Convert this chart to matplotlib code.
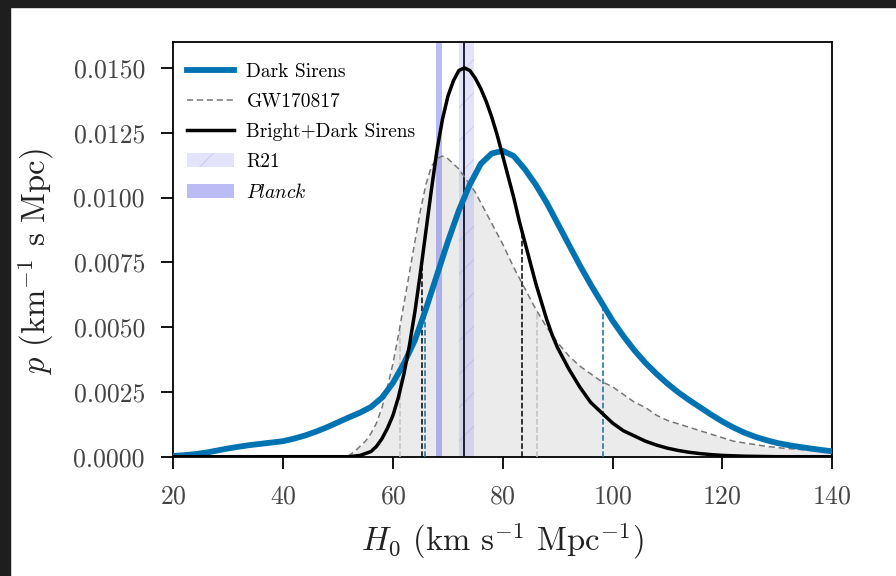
"""Posterior on H0: dark sirens, GW170817 and the combined bright+dark result."""

import matplotlib

matplotlib.use("Agg")
import matplotlib.pyplot as plt  # noqa: E402
from matplotlib.patches import Rectangle  # noqa: E402
from matplotlib.ticker import FormatStrFormatter  # noqa: E402

plt.rcParams.update({
    "font.family": "serif",
    "font.serif": ["cmr10"],
    "mathtext.fontset": "cm",
    "axes.formatter.use_mathtext": True,
    "hatch.linewidth": 0.8,
})

# Dark sirens posterior
DARK_H0 = [20, 22, 24, 26, 28, 30, 32, 34, 36, 38, 40, 42, 44, 46, 48, 50, 52,
           54, 56, 58, 60, 62, 64, 66, 68, 70, 72, 74, 76, 78, 80, 82, 84, 86,
           88, 90, 92, 94, 96, 98, 100, 102, 104, 106, 108, 110, 112, 114,
           116, 118, 120, 122, 124, 126, 128, 130, 132, 134, 136, 138, 140]
DARK_P = [0.00003, 0.00006, 0.00010, 0.00016, 0.00024, 0.00032, 0.00039,
          0.00045, 0.00050, 0.00055, 0.00060, 0.00070, 0.00082, 0.00097,
          0.00114, 0.00133, 0.00152, 0.00170, 0.00192, 0.00228, 0.00285,
          0.00360, 0.00450, 0.00570, 0.00700, 0.00830, 0.00950, 0.01050,
          0.01130, 0.01170, 0.01180, 0.01160, 0.01110, 0.01050, 0.00980,
          0.00900, 0.00820, 0.00740, 0.00665, 0.00595, 0.00525, 0.00465,
          0.00410, 0.00362, 0.00320, 0.00282, 0.00248, 0.00218, 0.00190,
          0.00162, 0.00136, 0.00113, 0.00093, 0.00077, 0.00064, 0.00053,
          0.00045, 0.00038, 0.00032, 0.00026, 0.00021]

# GW170817 (bright siren) posterior
GW_H0 = [50, 52, 53, 54, 55, 56, 57, 58, 59, 60, 61, 62, 63, 64, 65, 66, 67,
         68, 69, 70, 71, 72, 73, 74, 75, 76, 77, 78, 79, 80, 82, 84, 86, 88,
         90, 92, 94, 96, 98, 100, 102, 104, 106, 108, 110, 113, 116, 119,
         122, 125, 128, 131, 134, 137, 140]
GW_P = [0.0, 0.00005, 0.0002, 0.0004, 0.0006, 0.0009, 0.0013, 0.0019, 0.0027,
        0.0036, 0.0047, 0.0059, 0.0071, 0.0083, 0.0095, 0.0105, 0.0112,
        0.0115, 0.0116, 0.0115, 0.0113, 0.0111, 0.0108, 0.0105, 0.0102,
        0.0098, 0.0094, 0.0090, 0.0086, 0.0082, 0.0073, 0.0065, 0.0057,
        0.0050, 0.0044, 0.0039, 0.0035, 0.0032, 0.0029, 0.0027, 0.0024,
        0.0021, 0.0019, 0.0016, 0.0014, 0.0012, 0.0010, 0.0008, 0.0006,
        0.0005, 0.0004, 0.00033, 0.00028, 0.00022, 0.00018]

# Combined bright + dark sirens posterior
BOTH_H0 = [20, 52, 54, 56, 57, 58, 59, 60, 61, 62, 63, 64, 65, 66, 67, 68, 69,
           70, 71, 72, 73, 74, 75, 76, 77, 78, 79, 80, 81, 82, 83, 84, 85, 86,
           87, 88, 89, 90, 92, 94, 96, 98, 100, 102, 104, 106, 108, 110, 112,
           114, 116, 118, 120, 124, 130, 140]
BOTH_P = [0.0, 0.0, 0.00005, 0.0002, 0.0004, 0.0007, 0.0011, 0.0016, 0.0023,
          0.0032, 0.0043, 0.0056, 0.0071, 0.0087, 0.0103, 0.0118, 0.0130,
          0.0139, 0.0145, 0.0149, 0.0150, 0.0149, 0.0146, 0.0142, 0.0137,
          0.0131, 0.0124, 0.0116, 0.0108, 0.0100, 0.0091, 0.0083, 0.0075,
          0.0067, 0.0060, 0.0053, 0.0047, 0.0042, 0.0034, 0.0027, 0.0021,
          0.0017, 0.0013, 0.0010, 0.0008, 0.0006, 0.00045, 0.00033, 0.00024,
          0.00017, 0.00012, 0.00008, 0.00005, 0.00002, 0.0, 0.0]

# 68% interval bounds (x, height up to the curve)
DARK_CI = [(65.8, 0.0056), (98.2, 0.0059)]
GW_CI = [(61.3, 0.0050), (86.2, 0.0056)]
BOTH_CI = [(65.2, 0.0074), (83.5, 0.0087)]
BOTH_MEDIAN = 72.85

R21_BAND = (72.0, 74.7)
PLANCK_BAND = (67.8, 69.0)

BLUE = "#0173b2"


def main() -> None:
    fig = plt.figure(figsize=(8.96, 5.76), dpi=100)
    # dark screenshot frame on top and left
    fig.patches.append(Rectangle((0, 1 - 7 / 576), 1, 7 / 576, transform=fig.transFigure,
                                 color="#1e1e1e", zorder=10))
    fig.patches.append(Rectangle((0, 0), 10 / 896, 1, transform=fig.transFigure,
                                 color="#1e1e1e", zorder=10))
    ax = fig.add_axes([0.1936, 0.2071, 0.7350, 0.7200])

    ax.fill_between(GW_H0, GW_P, 0, color="#d9d9d9", alpha=0.5, lw=0, zorder=1)

    ax.axvspan(*R21_BAND, facecolor=(0.4, 0.4, 0.95, 0.18),
               edgecolor=(0.55, 0.55, 0.85, 0.25), hatch="/", lw=0, zorder=2,
               label="R21")
    ax.axvspan(*PLANCK_BAND, facecolor=(0.3, 0.3, 0.9, 0.38), lw=0, zorder=2,
               label=r"$\mathit{Planck}$")

    for x, h in GW_CI:
        ax.vlines(x, 0, h, color="#c0c0c0", linestyle="--", lw=1.1, zorder=3)
    for x, h in BOTH_CI:
        ax.vlines(x, 0, h, color="black", linestyle="--", lw=1.1, zorder=3)
    for x, h in DARK_CI:
        ax.vlines(x, 0, h, color="#1a6f98", linestyle="--", lw=1.1, zorder=3)

    ax.axvline(BOTH_MEDIAN, color="#111122", lw=1.3, zorder=3)

    ax.plot(DARK_H0, DARK_P, color=BLUE, lw=4.2, zorder=5, label="Dark Sirens",
            solid_joinstyle="round")
    ax.plot(GW_H0, GW_P, color="#777777", lw=1.1, ls=(0, (4, 2.5)), zorder=4,
            label="GW170817")
    ax.plot(BOTH_H0, BOTH_P, color="black", lw=2.5, zorder=6,
            label="Bright+Dark Sirens", solid_joinstyle="round")

    ax.set_xlim(20, 140)
    ax.set_ylim(0, 0.0160)
    ax.set_xticks([20, 40, 60, 80, 100, 120, 140])
    ax.set_yticks([0, 0.0025, 0.0050, 0.0075, 0.0100, 0.0125, 0.0150])
    ax.yaxis.set_major_formatter(FormatStrFormatter("%.4f"))
    ax.tick_params(direction="out", length=8.5, width=1.3, labelsize=18.5,
                   pad=12, labelcolor="#444444")
    for s in ax.spines.values():
        s.set_linewidth(1.3)

    ax.set_xlabel(r"$H_0$ (km s$^{-1}$ Mpc$^{-1}$)", fontsize=23.5, labelpad=8,
                  color="#222222")
    ax.set_ylabel(r"$p$ (km$^{-1}$ s Mpc)", fontsize=23.5, color="#222222")
    ax.yaxis.set_label_coords(-0.178, 0.47)

    handles, labels = ax.get_legend_handles_labels()
    order = [labels.index(k) for k in
             ["Dark Sirens", "GW170817", "Bright+Dark Sirens", "R21",
              r"$\mathit{Planck}$"]]
    ax.legend([handles[i] for i in order], [labels[i] for i in order],
              loc="upper left", bbox_to_anchor=(0, 0.983), fontsize=14,
              frameon=False, handlelength=2.4, handletextpad=0.65,
              borderaxespad=0.3, labelspacing=0.62)

    fig.savefig("out.png", dpi=100)
    plt.close(fig)


if __name__ == "__main__":
    main()
